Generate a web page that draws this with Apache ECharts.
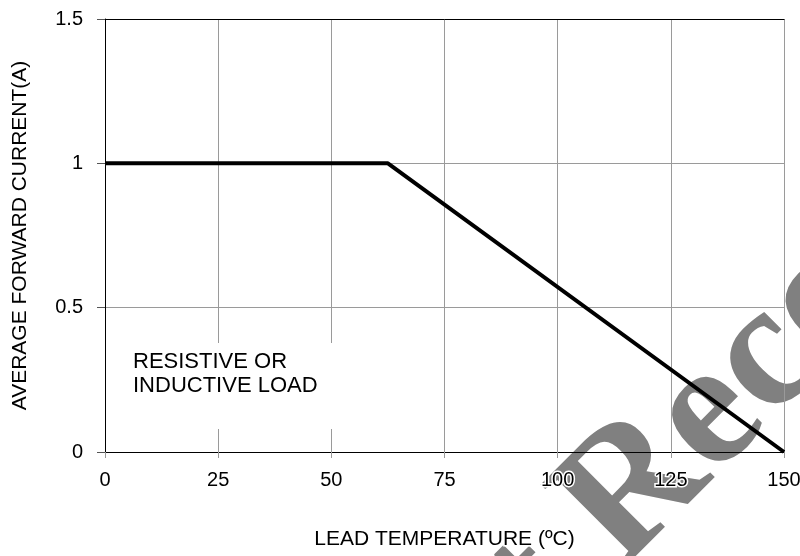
<!DOCTYPE html>
<html>
<head>
<meta charset="utf-8">
<script src="https://cdn.jsdelivr.net/npm/echarts@6/dist/echarts.min.js"></script>
<style>html,body{margin:0;padding:0;background:#fff;}#c{width:800px;height:556px;}</style>
</head>
<body>
<div id="c"></div>
<script>
// Data
var temperature = [0, 62.5, 150];
var current = [1, 1, 0];
var xTicks = [0, 25, 50, 75, 100, 125, 150];
var yTicks = [0, 0.5, 1, 1.5];
var xName = 'LEAD TEMPERATURE (ºC)';
var yName = 'AVERAGE FORWARD CURRENT(A)';
var noteText = 'RESISTIVE OR\nINDUCTIVE LOAD';
var watermarkText = 'Not Recommended';

var chart = echarts.init(document.getElementById('c'), null, {renderer: 'canvas'});
var font = '"Liberation Sans", Arial, sans-serif';
var seriesData = temperature.map(function (t, i) { return [t, current[i]]; });

chart.setOption({
  animation: false,
  backgroundColor: '#fff',
  grid: {left: 105, right: 16, top: 19, bottom: 104, containLabel: false, outerBoundsMode: 'none'},
  xAxis: [{
    type: 'value', min: 0, max: 150, interval: 25,
    name: xName, nameLocation: 'middle', nameGap: 77,
    nameTextStyle: {fontFamily: font, fontSize: 21, color: '#000', textBorderColor: '#fff', textBorderWidth: 3},
    axisLine: {show: true, onZero: false, lineStyle: {color: '#000', width: 1}},
    axisTick: {show: true, length: 6, lineStyle: {color: '#999'}},
    axisLabel: {fontFamily: font, fontSize: 20, color: '#000', margin: 18, textBorderColor: '#fff', textBorderWidth: 3,
      formatter: function (v) { return xTicks.indexOf(v) >= 0 ? String(v) : ''; }},
    splitLine: {show: true, lineStyle: {color: '#9a9a9a', width: 1}}
  }, {
    type: 'value', min: 0, max: 150, position: 'top',
    axisLine: {show: true, onZero: false, lineStyle: {color: '#000', width: 1}},
    axisTick: {show: false}, axisLabel: {show: false}, splitLine: {show: false}
  }],
  yAxis: {
    type: 'value', min: 0, max: 1.5, interval: 0.5,
    name: yName, nameLocation: 'middle', nameGap: 74,
    nameTextStyle: {fontFamily: font, fontSize: 21, color: '#000'},
    axisLine: {show: true, onZero: false, lineStyle: {color: '#000', width: 1}},
    axisTick: {show: true, length: 8, lineStyle: {color: '#555'}},
    axisLabel: {fontFamily: font, fontSize: 20, color: '#000', margin: 22,
      formatter: function (v) { return yTicks.indexOf(v) >= 0 ? String(v) : ''; }},
    splitLine: {show: true, lineStyle: {color: '#9a9a9a', width: 1}}
  },
  graphic: [
    {type: 'rect', z: 1, shape: {x: 120, y: 343, width: 225, height: 86}, style: {fill: '#fff'}},
    {type: 'text', z: 1, x: 133, y: 350,
      style: {text: noteText, fontFamily: font, fontSize: 22, lineHeight: 24, fill: '#000', align: 'left', verticalAlign: 'top'}},
    {type: 'text', z: -1, x: 359, y: 767, rotation: Math.PI / 4,
      style: {text: watermarkText, font: 'bold 180px "Liberation Serif", "Times New Roman", serif', fill: '#808080', align: 'left', verticalAlign: 'middle'}}
  ],
  series: [{
    type: 'line', data: seriesData, showSymbol: false, symbol: 'none', clip: false,
    lineStyle: {color: '#000', width: 4}, z: 5
  }]
});
</script>
</body>
</html>
